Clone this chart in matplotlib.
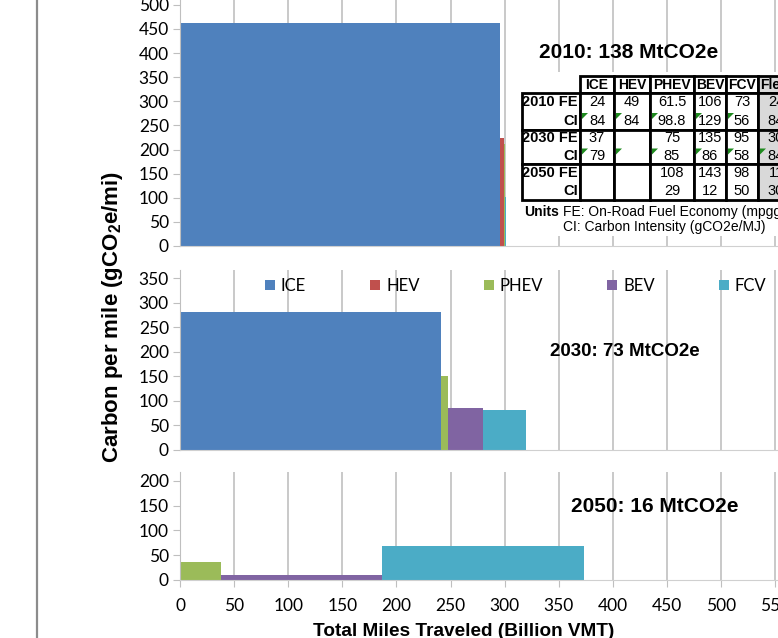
import numpy as np
import matplotlib
matplotlib.use("Agg")
import matplotlib.pyplot as plt
from matplotlib.patches import Patch, Rectangle, Polygon
from matplotlib.lines import Line2D

plt.rcParams['mathtext.fontset'] = 'custom'
plt.rcParams['mathtext.rm'] = 'Liberation Sans:bold'
plt.rcParams['mathtext.it'] = 'Liberation Sans:bold'
plt.rcParams['mathtext.bf'] = 'Liberation Sans:bold'

# datos
tipos = ['ICE', 'HEV', 'PHEV', 'BEV', 'FCV']
colores = ['#4f81bd', '#c0504d', '#9bbb59', '#8064a2', '#4bacc6']

vmt_2010 = [296, 3.5, 0.5, 0.5, 0.5]
cpm_2010 = [462, 224, 212, 162, 101]
vmt_2030 = [241, 0, 6.5, 32.5, 40]
cpm_2030 = [281, 0, 150, 85, 81]
vmt_2050 = [0, 0, 38, 149, 186]
cpm_2050 = [0, 0, 36, 11, 68]

titulos = ['2010: 138 MtCO2e', '2030: 73 MtCO2e', '2050: 16 MtCO2e']

# tabla
cols_tabla = ['ICE', 'HEV', 'PHEV', 'BEV', 'FCV', 'Fleet']
filas_tabla = ['2010 FE', 'CI', '2030 FE', 'CI', '2050 FE', 'CI']
fe_2010 = ['24', '49', '61.5', '106', '73', '24']
ci_2010 = ['84', '84', '98.8', '129', '56', '84']
fe_2030 = ['37', '', '75', '135', '95', '30']
ci_2030 = ['79', '', '85', '86', '58', '84']
fe_2050 = ['', '', '108', '143', '98', '11']
ci_2050 = ['', '', '29', '12', '50', '30']
marcas_2010 = [1, 1, 1, 1, 1, 0]
marcas_2030 = [1, 1, 1, 1, 1, 1]

W, H = 778, 638


def fx(x):
    return x / W


def fy(y):
    return 1 - y / H


fig = plt.figure(figsize=(W / 100, H / 100), dpi=100)

escala_x = 1.082  # px por unidad
ancho_ax = 600 * escala_x / W

paneles = [
    (vmt_2010, cpm_2010, 246, 0, 510, [0, 50, 100, 150, 200, 250, 300, 350, 400, 450, 500]),
    (vmt_2030, cpm_2030, 450, 270, 367, [0, 50, 100, 150, 200, 250, 300, 350]),
    (vmt_2050, cpm_2050, 580, 472, 218, [0, 50, 100, 150, 200]),
]

axs = []
for i, (vmt, cpm, abajo, arriba, ymax, yt) in enumerate(paneles):
    ax = fig.add_axes([fx(180), fy(abajo), ancho_ax, (abajo - arriba) / H])
    inicios = np.concatenate([[0], np.cumsum(vmt)[:-1]])
    ax.bar(inicios, cpm, width=vmt, align='edge', color=colores, linewidth=0)
    ax.set_xlim(0, 600)
    ax.set_ylim(0, ymax)
    ax.set_yticks(yt)
    ax.set_axisbelow(True)
    ax.grid(axis='x', color='#c0c0c0', linewidth=1.2)
    ax.grid(axis='y', visible=False)
    for s in ['top', 'right']:
        ax.spines[s].set_visible(False)
    ax.spines['left'].set_color('#bfbfbf')
    ax.spines['bottom'].set_color('#d0d0d0')
    ax.tick_params(axis='y', color='#bfbfbf', length=5, pad=3, labelsize=12.5)
    for lbl in ax.get_yticklabels():
        lbl.set_fontfamily('Lato')
    ax.set_xticks(np.arange(0, 601, 50))
    if i < 2:
        ax.tick_params(axis='x', length=0, labelbottom=False)
    else:
        ax.tick_params(axis='x', color='#bfbfbf', length=5, pad=8, labelsize=12.5)
        for lbl in ax.get_xticklabels():
            lbl.set_fontfamily('Lato')
    ax.patch.set_alpha(0)
    axs.append(ax)

# titulos de cada panel
fig.text(fx(629), fy(52), titulos[0], ha='center', va='center', fontsize=15,
         fontweight='bold', family='Liberation Sans')
fig.text(fx(625), fy(352), titulos[1], ha='center', va='center', fontsize=13.5,
         fontweight='bold', family='Liberation Sans')
fig.text(fx(655), fy(507), titulos[2], ha='center', va='center', fontsize=15,
         fontweight='bold', family='Liberation Sans')

# leyenda
handles = [Patch(facecolor=c, edgecolor='none') for c in colores]
fig.legend(handles, tipos, loc='center left', bbox_to_anchor=(fx(265), fy(286)),
           ncol=5, frameon=False, borderpad=0, borderaxespad=0,
           handlelength=0.6, handleheight=0.6, handletextpad=0.35,
           columnspacing=3.85, prop={'family': 'Lato', 'size': 12})

# etiquetas de ejes
fig.text(fx(113), fy(317), 'Carbon per mile (gCO$_2$e/mi)', rotation=90,
         ha='center', va='center', fontsize=16, fontweight='bold',
         family='Liberation Sans')
fig.text(fx(464), fy(632), 'Total Miles Traveled (Billion VMT)', ha='center',
         va='center', fontsize=13.7, fontweight='bold', family='Liberation Sans')

# linea gris a la izquierda
fig.add_artist(Line2D([fx(37), fx(37)], [0, 1], color='#8c8c8c', linewidth=1.6))

# fondo blanco de la tabla
fig.add_artist(Rectangle((fx(516), fy(236)), fx(300), (236 - 72) / H,
                         facecolor='white', edgecolor='none', zorder=5))

bordes_col = [580, 614, 650, 694, 726, 758, 810]
filas_y = [93, 111.5, 130, 147, 164, 182, 200]
valores = [fe_2010, ci_2010, fe_2030, ci_2030, fe_2050, ci_2050]
marcas = [None, marcas_2010, None, marcas_2030, None, None]

lw_t = 2.0
# cabecera
for j, nombre in enumerate(cols_tabla):
    x0, x1 = bordes_col[j], bordes_col[j + 1]
    fc = '#d9d9d9' if nombre == 'Fleet' else 'white'
    fig.add_artist(Rectangle((fx(x0), fy(93)), (x1 - x0) / W, 17 / H,
                             facecolor=fc, edgecolor='black', linewidth=lw_t, zorder=6))
    fig.text(fx((x0 + x1) / 2) if j < 5 else fx(776), fy(85), nombre, ha='center',
             va='center', fontsize=10, fontweight='bold', family='Liberation Sans', zorder=8)

# cuerpo
for g in range(3):
    y0, y1 = filas_y[2 * g], filas_y[2 * g + 2]
    fig.add_artist(Rectangle((fx(522), fy(y1)), (580 - 522) / W, (y1 - y0) / H,
                             facecolor='white', edgecolor='black', linewidth=lw_t, zorder=6))
    for j, nombre in enumerate(cols_tabla):
        x0, x1 = bordes_col[j], bordes_col[j + 1]
        fc = '#d9d9d9' if nombre == 'Fleet' else 'white'
        fig.add_artist(Rectangle((fx(x0), fy(y1)), (x1 - x0) / W, (y1 - y0) / H,
                                 facecolor=fc, edgecolor='black', linewidth=lw_t, zorder=6))

for r in range(6):
    yc = (filas_y[r] + filas_y[r + 1]) / 2
    fig.text(fx(578), fy(yc), filas_tabla[r], ha='right', va='center', fontsize=10.5,
             fontweight='bold', family='Liberation Sans', zorder=8)
    for j in range(6):
        x0, x1 = bordes_col[j], bordes_col[j + 1]
        xc = (x0 + x1) / 2 if j < 5 else 776
        fig.text(fx(xc), fy(yc), valores[r][j], ha='center', va='center', fontsize=10.5,
                 family='Liberation Sans', zorder=8)
        if marcas[r] is not None and marcas[r][j]:
            ty = filas_y[r] + 1.5
            tx = x0 + 2
            fig.add_artist(Polygon([[fx(tx), fy(ty)], [fx(tx + 6), fy(ty)], [fx(tx), fy(ty + 6)]],
                                   closed=True, facecolor='#1e8a1e', edgecolor='none', zorder=9))

# unidades
fig.text(fx(524), fy(212), 'Units', ha='left', va='center', fontsize=10,
         fontweight='bold', family='Liberation Sans', zorder=8)
fig.text(fx(563), fy(212), 'FE: On-Road Fuel Economy (mpgge)', ha='left', va='center',
         fontsize=10, family='Liberation Sans', zorder=8)
fig.text(fx(563), fy(227), 'CI: Carbon Intensity (gCO2e/MJ)', ha='left', va='center',
         fontsize=10, family='Liberation Sans', zorder=8)

fig.savefig('out.png', dpi=100)
